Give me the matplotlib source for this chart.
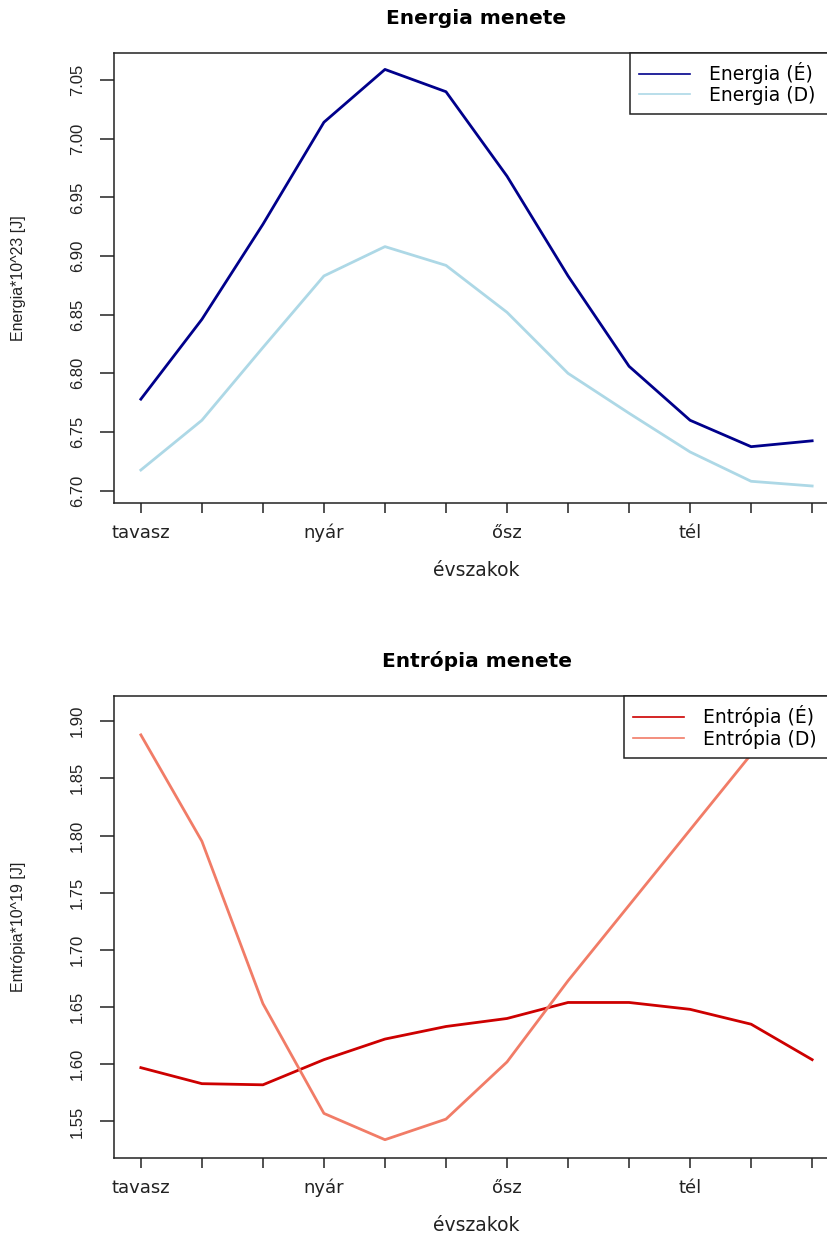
"""Energia es entropia menete evszakonkent (ket panel, R-stilusu)."""

import matplotlib

matplotlib.use("Agg")

import matplotlib.pyplot as plt
from matplotlib.lines import Line2D
import numpy as np

# adatok
honapok = np.arange(1, 13)
evszak_pos = [1, 4, 7, 10]
evszak_nevek = ["tavasz", "nyár", "ősz", "tél"]

energia_e = [6.778, 6.846, 6.927, 7.014, 7.059, 7.040, 6.968, 6.883, 6.806, 6.760, 6.7375, 6.7425]
energia_d = [6.7176, 6.760, 6.822, 6.883, 6.908, 6.892, 6.852, 6.800, 6.766, 6.733, 6.708, 6.704]

entropia_e = [1.597, 1.583, 1.582, 1.604, 1.622, 1.633, 1.640, 1.654, 1.654, 1.648, 1.635, 1.604]
entropia_d = [1.888, 1.795, 1.653, 1.557, 1.534, 1.552, 1.602, 1.673, 1.739, 1.805, 1.871, 1.905]

energia_ticks = [6.70, 6.75, 6.80, 6.85, 6.90, 6.95, 7.00, 7.05]
entropia_ticks = [1.55, 1.60, 1.65, 1.70, 1.75, 1.80, 1.85, 1.90]

W, H = 827, 1234
fig = plt.figure(figsize=(W / 100, H / 100), dpi=100)
fig.patch.set_facecolor("white")

HFONT = "DejaVu Sans"
VFONT = "Liberation Sans"
INK = "#222222"


def panel(rect, ylim, yticks, e_vals, d_vals, c_e, c_d, title, ylabel, labels, leg_left):
    ax = fig.add_axes(rect)
    ax.plot(honapok, e_vals, color=c_e, lw=2.0, solid_joinstyle="round")
    ax.plot(honapok, d_vals, color=c_d, lw=2.0, solid_joinstyle="round")
    ax.set_xlim(0.56, 12.44)
    ax.set_ylim(*ylim)

    for sp in ax.spines.values():
        sp.set_linewidth(1.1)
        sp.set_color(INK)

    ax.set_xticks(honapok)
    ax.set_xticklabels([evszak_nevek[evszak_pos.index(m)] if m in evszak_pos else "" for m in honapok],
                       family=HFONT, fontsize=13, color=INK)
    ax.tick_params(axis="x", direction="out", length=7, width=1.1, pad=8, color=INK)

    ax.set_yticks(yticks)
    ax.set_yticklabels([f"{v:.2f}" for v in yticks], rotation=90, va="center",
                       family=VFONT, fontsize=12, color=INK)
    ax.tick_params(axis="y", direction="out", length=10, width=1.1, pad=11, color=INK)

    ax.set_title(title, family=HFONT, fontsize=14.5, fontweight="bold", pad=21)
    ax.set_xlabel("évszakok", family=HFONT, fontsize=13.5, color=INK)
    ax.xaxis.set_label_coords(0.5, -58 / (rect[3] * H))
    ax.set_ylabel(ylabel, family=VFONT, fontsize=11.5, color=INK)
    ax.yaxis.set_label_coords(-88 / (rect[2] * W), 0.5)

    # legend box: bal szele a megadott pixelen, jobb szele a tengely jobb szelen
    ax_w = rect[2] * W
    x0 = (leg_left - 114) / ax_w
    handles = [Line2D([], [], color=c_e, lw=1.2), Line2D([], [], color=c_d, lw=1.2)]
    leg = ax.legend(handles, labels, loc="upper left", mode="expand",
                    bbox_to_anchor=(x0, 0.0, 1.0 - x0, 1.0), borderaxespad=0,
                    prop={"family": HFONT, "size": 13.5}, fancybox=False, framealpha=1,
                    edgecolor=INK, handlelength=2.7, handletextpad=1.0,
                    labelspacing=0.08, borderpad=0.5)
    leg.get_frame().set_linewidth(1.1)
    return ax


left = 114 / W
width = (839 - 114) / W

panel([left, 1 - 503 / H, width, (503 - 53) / H], (6.6895, 7.073), energia_ticks,
      energia_e, energia_d, "#00008B", "#ADD8E6", "Energia menete", "Energia*10^23 [J]",
      ["Energia (É)", "Energia (D)"], 630)

panel([left, 1 - 1158 / H, width, (1158 - 696) / H], (1.518, 1.922), entropia_ticks,
      entropia_e, entropia_d, "#CD0000", "#F17C67", "Entrópia menete", "Entrópia*10^19 [J]",
      ["Entrópia (É)", "Entrópia (D)"], 624)

fig.savefig("out.png", dpi=100)
